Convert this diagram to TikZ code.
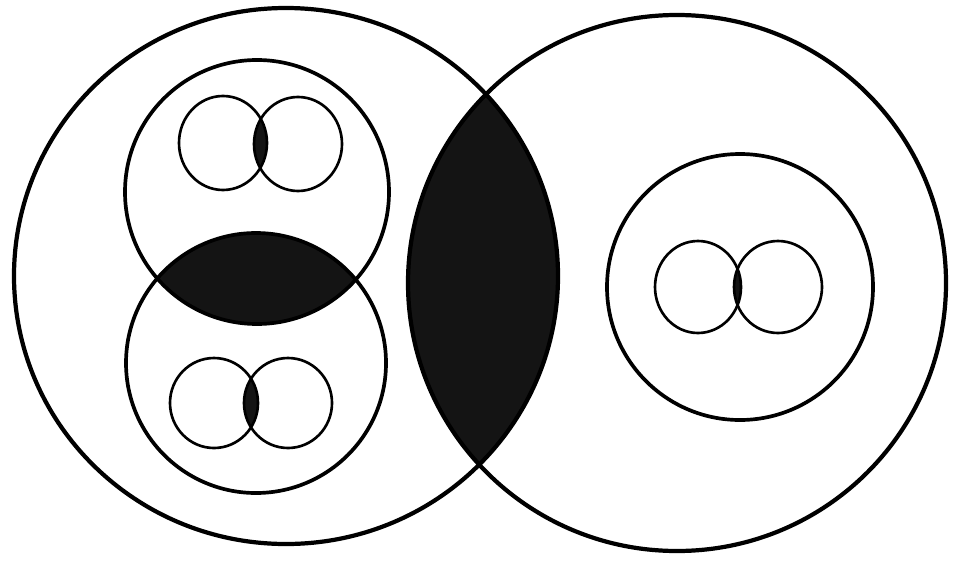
\documentclass[tikz,border=0pt]{standalone}
\usetikzlibrary{positioning}
\begin{document}
\begin{tikzpicture}[x=0.02cm, y=-0.02cm]
    % Styles
    \tikzstyle{outer} = [draw, line width=2.4pt]
    \tikzstyle{inner} = [draw, line width=2.1pt]
    \tikzstyle{small} = [draw, line width=1.5pt]
    \tikzstyle{lens} = [fill=black!92]
    \useasboundingbox (0,0) rectangle (959,561);

    % Centres
    \coordinate (bigL) at (286,276);
    \coordinate (bigR) at (677,283);
    \coordinate (upL) at (257,192);
    \coordinate (lowL) at (256,363);
    \coordinate (midR) at (740,287);
    \coordinate (upA) at (223,143);
    \coordinate (upB) at (298,144);
    \coordinate (lowA) at (214,403);
    \coordinate (lowB) at (288,403);
    \coordinate (midA) at (698,287);
    \coordinate (midB) at (778,287);

    % Shaded overlaps
    \begin{scope}
        \clip (bigL) circle [x radius=272, y radius=268];
        \fill[lens] (bigR) circle [x radius=269, y radius=268];
    \end{scope}
    \begin{scope}
        \clip (upL) circle [radius=132];
        \fill[lens] (lowL) circle [radius=130];
    \end{scope}
    \begin{scope}
        \clip (upA) circle [x radius=44, y radius=47];
        \fill[lens] (upB) circle [x radius=44, y radius=47];
    \end{scope}
    \begin{scope}
        \clip (lowA) circle [x radius=44, y radius=45];
        \fill[lens] (lowB) circle [x radius=44, y radius=45];
    \end{scope}
    \begin{scope}
        \clip (midA) circle [x radius=43, y radius=46];
        \fill[lens] (midB) circle [x radius=44, y radius=46];
    \end{scope}

    % Outer circles
    \draw[outer] (bigL) circle [x radius=272, y radius=268];
    \draw[outer] (bigR) circle [x radius=269, y radius=268];

    % Inner circles
    \draw[inner] (upL) circle [radius=132];
    \draw[inner] (lowL) circle [radius=130];
    \draw[inner] (midR) circle [radius=133];

    % Small pairs
    \draw[small] (upA) circle [x radius=44, y radius=47];
    \draw[small] (upB) circle [x radius=44, y radius=47];
    \draw[small] (lowA) circle [x radius=44, y radius=45];
    \draw[small] (lowB) circle [x radius=44, y radius=45];
    \draw[small] (midA) circle [x radius=43, y radius=46];
    \draw[small] (midB) circle [x radius=44, y radius=46];
\end{tikzpicture}
\end{document}
